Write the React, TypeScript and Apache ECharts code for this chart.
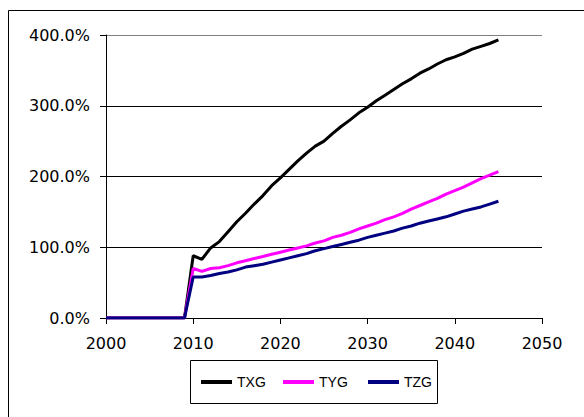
import React, { useEffect, useRef } from "react";
import * as echarts from "echarts";

const years = [
  2000, 2001, 2002, 2003, 2004, 2005, 2006, 2007, 2008, 2009,
  2010, 2011, 2012, 2013, 2014, 2015, 2016, 2017, 2018, 2019,
  2020, 2021, 2022, 2023, 2024, 2025, 2026, 2027, 2028, 2029,
  2030, 2031, 2032, 2033, 2034, 2035, 2036, 2037, 2038, 2039,
  2040, 2041, 2042, 2043, 2044, 2045,
];

const txg = [
  0, 0, 0, 0, 0, 0, 0, 0, 0, 0,
  88, 83, 99, 108, 122, 136, 148, 161, 173, 187,
  198, 210, 222, 233, 243, 250, 261, 271, 280, 290,
  298, 307, 315, 323, 331, 338, 346, 352, 359, 365,
  369, 374, 380, 384, 388, 393,
];

const tyg = [
  0, 0, 0, 0, 0, 0, 0, 0, 0, 0,
  70, 66, 70, 71, 74, 78, 81, 84, 87, 90,
  93, 96, 99, 102, 106, 109, 114, 117, 121, 126,
  130, 134, 139, 143, 148, 154, 159, 164, 169, 175,
  180, 185, 191, 197, 202, 207,
];

const tzg = [
  0, 0, 0, 0, 0, 0, 0, 0, 0, 0,
  58, 58, 60, 63, 65, 68, 72, 74, 76, 79,
  82, 85, 88, 91, 95, 98, 101, 104, 107, 110,
  114, 117, 120, 123, 127, 130, 134, 137, 140, 143,
  147, 151, 154, 157, 161, 165,
];

const seriesNames = ["TXG", "TYG", "TZG"];
const seriesColors = ["#000000", "#FF00FF", "#000080"];
const seriesValues = [txg, tyg, tzg];

export default function App() {
  const ref = useRef<HTMLDivElement>(null);

  useEffect(() => {
    if (!ref.current) return;
    const chart = echarts.init(ref.current, undefined, { renderer: "svg" });
    const axisFont = "'DejaVu Sans', sans-serif";
    const legendLefts = [201, 283, 368];
    chart.setOption({
      animation: false,
      backgroundColor: "#ffffff",
      grid: { left: 106, right: 42, top: 35, bottom: 99, containLabel: false },
      xAxis: {
        type: "value",
        min: 2000,
        max: 2050,
        interval: 10,
        axisLine: { show: true, lineStyle: { color: "#000", width: 1 } },
        axisTick: { show: true, length: 6, inside: false, lineStyle: { color: "#000" } },
        axisLabel: {
          color: "#000",
          fontSize: 16,
          fontFamily: axisFont,
          margin: 17,
          formatter: (v: number) => String(v),
        },
        splitLine: { show: false },
      },
      yAxis: {
        type: "value",
        min: 0,
        max: 400,
        interval: 100,
        axisLine: { show: true, lineStyle: { color: "#000", width: 1 } },
        axisTick: { show: true, length: 6, lineStyle: { color: "#000" } },
        axisLabel: {
          color: "#000",
          fontSize: 16,
          fontFamily: axisFont,
          margin: 16,
          formatter: (v: number) => v.toFixed(1) + "%",
        },
        splitLine: {
          show: true,
          lineStyle: { color: ["#000", "#000", "#000", "#000", "#808080"], width: 1 },
        },
      },
      legend: seriesNames.map((n, i) => ({
        data: [n],
        left: legendLefts[i],
        top: 375,
        padding: 0,
        icon: "rect",
        itemWidth: 31,
        itemHeight: 4,
        itemGap: 5,
        textStyle: { color: "#000", fontSize: 14, fontFamily: "'Liberation Sans', Arial, sans-serif" },
      })),
      graphic: [
        {
          type: "rect",
          shape: { x: 8.5, y: 10.5, width: 700, height: 600 },
          style: { fill: "none", stroke: "#000", lineWidth: 1 },
          silent: true,
          z: 0,
        },
        {
          type: "rect",
          shape: { x: 190.5, y: 360.5, width: 247, height: 43 },
          style: { fill: "#fff", stroke: "#000", lineWidth: 1 },
          silent: true,
          z: 0,
        },
      ],
      series: seriesNames.map((n, i) => ({
        name: n,
        type: "line",
        data: years.map((y, j) => [y, seriesValues[i][j]]),
        showSymbol: false,
        symbol: "none",
        lineStyle: { color: seriesColors[i], width: 3 },
        itemStyle: { color: seriesColors[i] },
        z: 3,
      })),
    });
    return () => chart.dispose();
  }, []);

  return (
    <div
      ref={ref}
      style={{ position: "fixed", left: 0, top: 0, width: 584, height: 417, background: "#fff" }}
    />
  );
}
